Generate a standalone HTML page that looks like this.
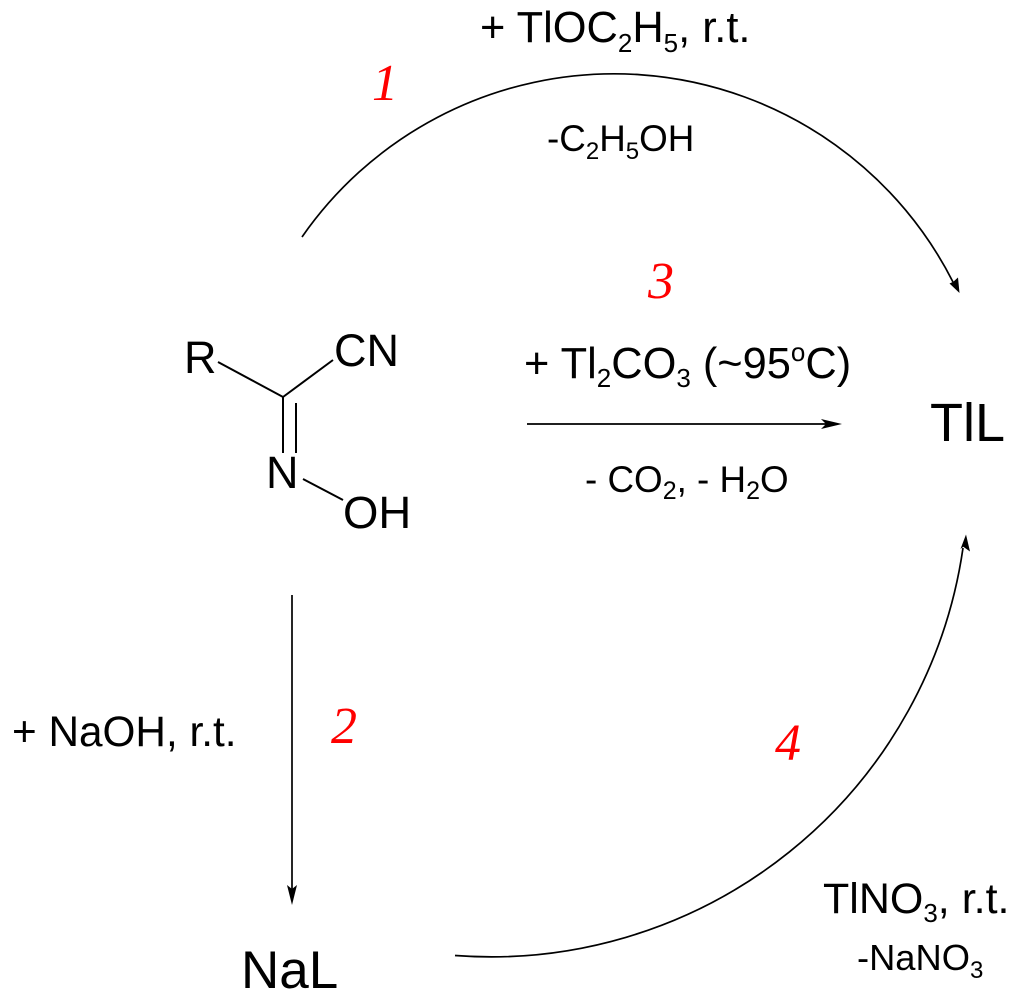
<!DOCTYPE html>
<html><head><meta charset="utf-8"><style>html,body{margin:0;padding:0;background:#fff}svg{display:block}text{font-family:"Liberation Sans",sans-serif;fill:#000}.r{font-family:"Liberation Serif",serif;font-style:italic;fill:#f00;font-size:52px}</style></head><body>
<svg width="1015" height="1000" viewBox="0 0 1015 1000" xmlns="http://www.w3.org/2000/svg">
<text x="480" y="42" font-size="43.400">+ TlOC<tspan font-size="26" dy="10">2</tspan><tspan dy="-10">H</tspan><tspan font-size="26" dy="10">5</tspan><tspan dy="-10">, r.t.</tspan></text>
<text x="547" y="151" font-size="36.800">-C<tspan font-size="24" dy="8">2</tspan><tspan dy="-8">H</tspan><tspan font-size="24" dy="8">5</tspan><tspan dy="-8">OH</tspan></text>
<text class="r" x="372" y="100">1</text>
<text class="r" x="648" y="298">3</text>
<text class="r" x="331" y="743">2</text>
<text class="r" x="775" y="760">4</text>
<path d="M302 237A380 380 0 0 1 953 282" fill="none" stroke="#000" stroke-width="1.7"/>
<path d="M959.500 293L949.500 283.500L953.300 281.700L958 277.500Z" fill="#000"/>
<text x="184" y="373" font-size="45">R</text>
<text x="334" y="366" font-size="45">CN</text>
<text x="266" y="488" font-size="45">N</text>
<text x="343" y="528" font-size="45.500">OH</text>
<path d="M218 362L283 397L333 360M283 397V453M296 403V453M303 479L343 500" fill="none" stroke="#000" stroke-width="2"/>
<text x="524" y="378" font-size="43.400">+ Tl<tspan font-size="26" dy="9">2</tspan><tspan dy="-9">CO</tspan><tspan font-size="26" dy="9">3</tspan><tspan dy="-9"> (~95</tspan><tspan font-size="26" dy="-17">o</tspan><tspan dy="17">C)</tspan></text>
<path d="M527 424H830" stroke="#000" stroke-width="1.7"/>
<path d="M842 424L821 419L826 424L821 429Z" fill="#000"/>
<text x="585" y="492" font-size="36.800">- CO<tspan font-size="25" dy="7">2</tspan><tspan dy="-7">, - H</tspan><tspan font-size="25" dy="7">2</tspan><tspan dy="-7">O</tspan></text>
<text x="930" y="441" font-size="54">TlL</text>
<text x="12" y="746" font-size="42.300">+ NaOH, r.t.</text>
<path d="M292 595V892" stroke="#000" stroke-width="1.7"/>
<path d="M292 905L287 885L292 889L297 885Z" fill="#000"/>
<text x="241" y="988" font-size="53">NaL</text>
<path d="M455 955.500A477 477 0 0 0 963 548" fill="none" stroke="#000" stroke-width="1.7"/>
<path d="M966 534.500L960.500 549L963.300 546.700L970 551.500Z" fill="#000"/>
<text x="823" y="913" font-size="43">TlNO<tspan font-size="26" dy="9">3</tspan><tspan dy="-9">, r.t.</tspan></text>
<text x="857" y="970" font-size="36.300">-NaNO<tspan font-size="24" dy="8">3</tspan></text>
</svg>
</body></html>
